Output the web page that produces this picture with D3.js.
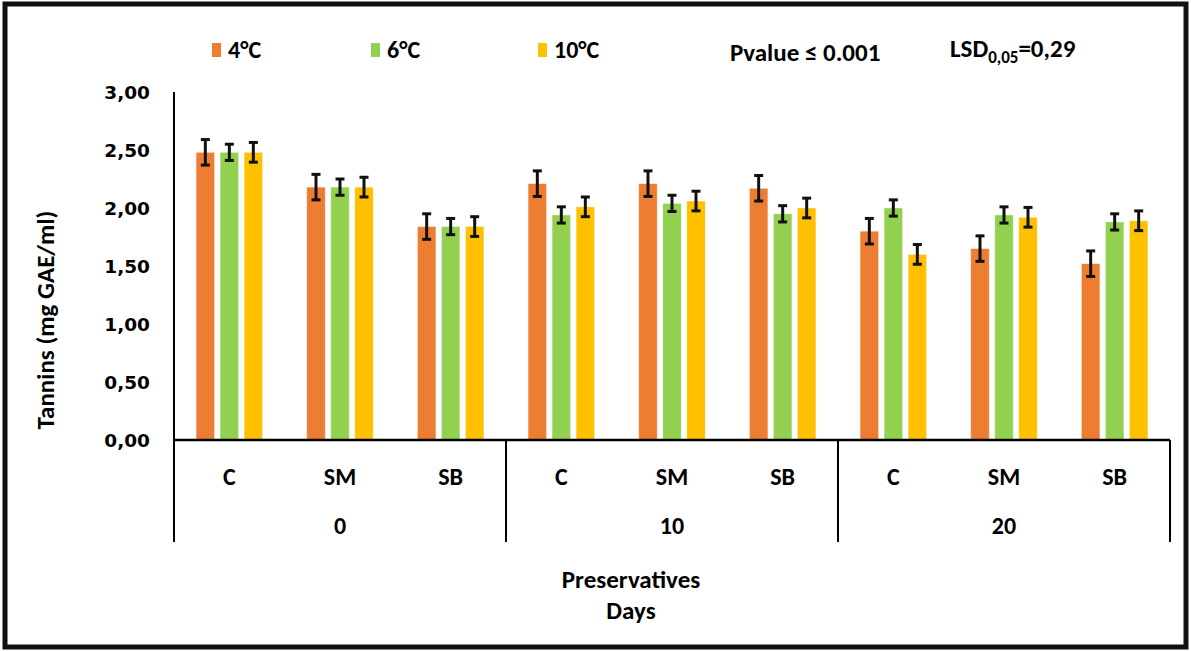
<!DOCTYPE html>
<html>
<head>
<meta charset="utf-8">
<script src="https://cdn.jsdelivr.net/npm/d3@7"></script>
<style>
  body { margin: 0; background: #fff; }
  text { font-family: Carlito, "Liberation Sans Narrow", "Open Sans", sans-serif; font-weight: bold; fill: #000; }
  text.ytick { font-family: "DejaVu Sans", sans-serif; }
</style>
</head>
<body>
<svg id="chart"></svg>
<script>
// data
const days = ['0', '10', '20']
const preservatives = ['C', 'SM', 'SB']
const series = ['4°C', '6°C', '10°C']
const colors = ['#ED7D31', '#92D050', '#FFC000']
// values per day/preservative, in order 0-C,0-SM,0-SB,10-C,...
const temp4 = [2.48, 2.18, 1.84, 2.21, 2.21, 2.17, 1.80, 1.65, 1.52]
const temp6 = [2.48, 2.18, 1.84, 1.94, 2.04, 1.95, 2.00, 1.94, 1.88]
const temp10 = [2.48, 2.18, 1.84, 2.01, 2.06, 2.00, 1.60, 1.92, 1.89]
const err4 = [0.11, 0.11, 0.11, 0.11, 0.11, 0.11, 0.11, 0.11, 0.11]
const err6 = [0.07, 0.07, 0.07, 0.07, 0.07, 0.07, 0.07, 0.07, 0.07]
const err10 = [0.085, 0.085, 0.085, 0.085, 0.085, 0.085, 0.085, 0.085, 0.085]
const yTicks = [0, 0.5, 1, 1.5, 2, 2.5, 3]

const W = 1191, H = 651
const plotL = 174, plotR = 1170, plotT = 92, base = 440

const svg = d3.select('#chart').attr('width', W).attr('height', H)

// outer frame
svg.append('rect')
    .attr('x', 5).attr('y', 4)
    .attr('width', W - 10).attr('height', H - 8)
    .attr('fill', 'none').attr('stroke', '#111').attr('stroke-width', 5)

const cats = []
days.forEach(d => preservatives.forEach(p => cats.push(d + '|' + p)))

const xDay = d3.scaleBand().domain(days).range([plotL, plotR])
const xCat = d3.scaleBand().domain(cats).range([plotL, plotR])
const xSer = d3.scaleBand().domain(series).range([0, xCat.bandwidth()])
    .paddingInner(0.23).paddingOuter(0.92)
const y = d3.scaleLinear().domain([0, 3]).range([base, plotT])

// y axis
const yAxis = d3.axisLeft(y).tickValues(yTicks).tickSize(0).tickPadding(24)
    .tickFormat(d => d3.format('.2f')(d).replace('.', ','))
const ga = svg.append('g').attr('transform', `translate(${plotL},0)`).call(yAxis)
ga.select('.domain').remove()
ga.selectAll('text').attr('class', 'ytick').style('font-size', '18.5px').attr('dy', '0.36em')

svg.append('line')
    .attr('x1', plotL).attr('x2', plotL).attr('y1', plotT).attr('y2', 542)
    .attr('stroke', '#000').attr('stroke-width', 2)

svg.append('text')
    .attr('transform', `translate(54,320) rotate(-90)`)
    .attr('text-anchor', 'middle')
    .style('font-size', '25px')
    .text('Tannins (mg GAE/ml)')

// bars
const allVals = [temp4, temp6, temp10]
const allErr = [err4, err6, err10]
series.forEach((s, si) => {
    const rows = cats.map((c, i) => ({ c, v: allVals[si][i], e: allErr[si][i] }))
    const g = svg.append('g')
    g.selectAll('rect')
        .data(rows)
        .join('rect')
        .attr('x', d => xCat(d.c) + xSer(s))
        .attr('y', d => y(d.v))
        .attr('width', xSer.bandwidth())
        .attr('height', d => base - y(d.v))
        .attr('fill', colors[si])
        .attr('stroke', '#fff').attr('stroke-opacity', 0.5).attr('stroke-width', 0.8)

    const eb = svg.append('g').attr('stroke', '#111').attr('stroke-width', 3)
    rows.forEach(d => {
        const cx = xCat(d.c) + xSer(s) + xSer.bandwidth() / 2
        eb.append('line').attr('x1', cx).attr('x2', cx).attr('y1', y(d.v + d.e)).attr('y2', y(d.v - d.e))
        eb.append('line').attr('x1', cx - 4.5).attr('x2', cx + 4.5).attr('y1', y(d.v + d.e)).attr('y2', y(d.v + d.e))
        eb.append('line').attr('x1', cx - 4.5).attr('x2', cx + 4.5).attr('y1', y(d.v - d.e)).attr('y2', y(d.v - d.e))
    })
})

// baseline
svg.append('line')
    .attr('x1', plotL).attr('x2', plotR).attr('y1', base).attr('y2', base)
    .attr('stroke', '#000').attr('stroke-width', 2.5)

// category separators
const seps = days.map(d => xDay(d)).concat([plotR])
svg.selectAll('.sep')
    .data(seps)
    .join('line')
    .attr('x1', d => d).attr('x2', d => d)
    .attr('y1', base).attr('y2', 542)
    .attr('stroke', '#000').attr('stroke-width', 2)

svg.selectAll('.catlbl')
    .data(cats)
    .join('text')
    .attr('x', d => xCat(d) + xCat.bandwidth() / 2)
    .attr('y', 485)
    .attr('text-anchor', 'middle')
    .style('font-size', '24px')
    .text(d => d.split('|')[1])

svg.selectAll('.daylbl')
    .data(days)
    .join('text')
    .attr('x', d => xDay(d) + xDay.bandwidth() / 2)
    .attr('y', 534)
    .attr('text-anchor', 'middle')
    .style('font-size', '24px')
    .text(d => d)

svg.append('text').attr('x', 631).attr('y', 588).attr('text-anchor', 'middle')
    .style('font-size', '25px').text('Preservatives')
svg.append('text').attr('x', 631).attr('y', 619).attr('text-anchor', 'middle')
    .style('font-size', '25px').text('Days')

// legend
const legX = [212, 371, 538]
series.forEach((s, i) => {
    svg.append('rect').attr('x', legX[i]).attr('y', 43).attr('width', 9).attr('height', 14).attr('fill', colors[i])
    svg.append('text').attr('x', legX[i] + 16).attr('y', 58).style('font-size', '24px').text(s)
})

svg.append('text').attr('x', 730).attr('y', 61).style('font-size', '25px').text('Pvalue ≤ 0.001')
const lsd = svg.append('text').attr('x', 950).attr('y', 57).style('font-size', '25px')
lsd.append('tspan').text('LSD')
lsd.append('tspan').attr('dy', 6).style('font-size', '17px').text('0,05')
lsd.append('tspan').attr('dy', -6).text('=0,29')
</script>
</body>
</html>
